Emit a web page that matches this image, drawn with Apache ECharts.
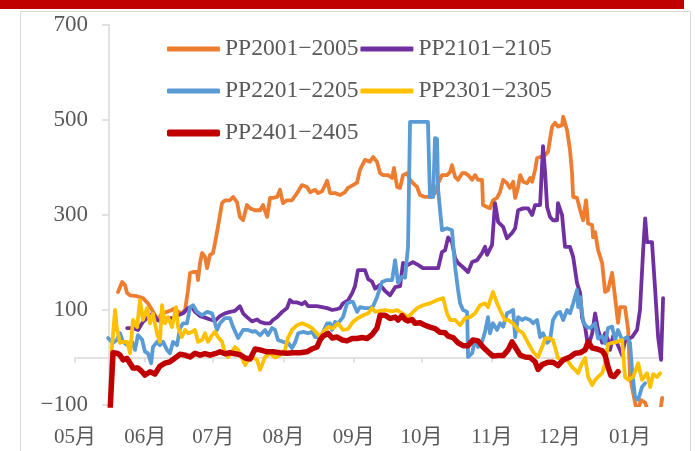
<!DOCTYPE html>
<html><head><meta charset="utf-8">
<script src="https://cdn.jsdelivr.net/npm/echarts@6/dist/echarts.min.js"></script>
<style>html,body{margin:0;padding:0;background:#fff}#c{width:695px;height:451px}</style>
</head><body><div id="c"></div>
<script>
// x = day offset from 1 May; y = spread value
const seriesNames = ['PP2001−2005','PP2101−2105','PP2201−2205','PP2301−2305','PP2401−2405'];
const monthStartDays = [0,31,61,92,123,153,184,214,245];
const monthLabels = ['05月','06月','07月','08月','09月','10月','11月','12月','01月'];

const pp2001 = [[19,138],[20.8,159],[22.1,152],[23,136],[24.3,131],[27.4,129],[30,125],[32.2,114],[34,100],[35.3,89],[36.6,79],[38.4,93],[40.6,96],[42.8,100],[44.2,104],[45.5,96],[47.2,93],[48.6,100],[49.9,142],[50.8,178],[52.1,180],[53.9,180],[54.3,163],[55.2,199],[56.1,220],[57.4,212],[58.3,188],[59.6,216],[60.9,220],[61.8,241],[63.1,275],[64.9,325],[66.2,331],[68.4,331],[69.8,338],[71.5,327],[72.8,296],[74.2,289],[75.9,321],[77.3,314],[79.5,310],[81.7,310],[83,321],[84.8,296],[86.1,336],[87.4,336],[89.2,338],[90.5,353],[91.8,325],[93.6,331],[95.8,331],[98,346],[100.2,363],[102.4,359],[103.8,348],[106,353],[107.3,346],[109.1,350],[111.3,372],[112.6,346],[114.8,346],[117,342],[119.2,348],[120.5,357],[122.7,363],[124.5,368],[125.8,395],[128,416],[130.2,412],[131.6,422],[133.3,412],[134.7,388],[136,384],[138.2,384],[140,378],[140.8,399],[142.2,359],[143.5,357],[144.8,384],[146.6,388],[147.9,374],[149.2,367],[151,359],[152.3,342],[154.5,338],[157.6,338],[158.9,346],[160.3,367],[162,384],[164.2,384],[165.6,391],[166.4,405],[167.8,380],[169.1,374],[170.9,388],[172.2,388],[173.5,384],[175.3,374],[176.6,384],[177.9,374],[179.7,374],[180.1,321],[181.9,317],[183.2,314],[184.5,331],[186.3,336],[187.6,348],[189,374],[190.7,367],[192,357],[193.4,370],[194.3,336],[195.6,359],[196.5,384],[197.8,370],[199.6,367],[200.9,378],[201.8,370],[203.1,395],[204,420],[205.3,422],[207.5,426],[208.8,433],[210.6,486],[211.9,494],[213.2,486],[215,489],[215.5,507],[217.2,479],[218.5,437],[219.4,388],[219.9,338],[221.6,336],[223,310],[224.3,289],[225.6,331],[226.5,282],[228.3,279],[228.7,253],[229.6,264],[230.9,226],[232.7,199],[234,138],[235.3,142],[237.1,178],[238.4,127],[239.7,73],[240.6,106],[242.8,106],[244.2,58],[245,-40],[246.8,-85],[248.1,-115],[249.9,-90],[251.7,-95],[253,-115],[256.1,-120],[258.3,-115],[259.2,-85]];

const pp2101 = [[23,62],[25.6,62],[27.8,58],[30,75],[32.2,85],[34.4,93],[36.2,79],[38.9,75],[41.1,83],[43.3,83],[45.5,89],[47.7,93],[49.9,104],[51.7,106],[53,96],[55.2,87],[57.4,84],[59.6,80],[61.8,77],[64,87],[66.2,93],[68.4,96],[70.6,98],[72.8,108],[74.2,93],[75.9,85],[78.1,76],[80.4,80],[81.7,75],[83.9,72],[86.1,72],[87.4,79],[89.2,85],[91.4,96],[93.6,104],[94.9,121],[96.2,116],[98,116],[100.2,112],[101.5,117],[102.9,108],[104.6,108],[106.8,108],[109.1,106],[111.3,104],[113.5,100],[115.7,102],[117,104],[118.3,114],[120.5,120],[122.3,135],[123.6,150],[124.9,184],[128,184],[129.4,165],[131.1,160],[132.5,145],[134.7,153],[136.9,140],[139.1,131],[141.3,148],[143.5,150],[144.8,199],[147,195],[149.2,201],[151.4,195],[153.6,188],[157.6,188],[160.3,188],[162,222],[163.4,226],[164.7,253],[166.4,243],[167.8,209],[169.1,199],[171.3,190],[173.5,180],[175.3,201],[177.5,205],[179.7,220],[181,233],[181.9,216],[184.1,237],[185.4,325],[186.8,285],[189,275],[190.7,251],[192.9,262],[194.3,272],[195.6,310],[197.8,314],[200,314],[201.8,300],[203.1,321],[205.3,321],[206.6,445],[207.5,390],[208.4,317],[209.7,296],[211,289],[212.8,289],[213.2,325],[215,300],[216.3,233],[218.5,233],[219.9,212],[221.6,157],[223,135],[223.8,85],[225.2,64],[226.5,22],[228.3,51],[229.6,93],[230.9,58],[232.7,31],[234,51],[235.3,37],[236.2,16],[237.5,45],[239.3,30],[241.5,5],[242.8,35],[245.9,43],[248.1,58],[249.4,100],[250.8,226],[251.7,293],[252.5,243],[254.7,243],[256.1,142],[257.4,43],[258.7,-5],[259.6,125]];

const pp2201 = [[14.6,41],[16.8,31],[18.5,37],[19.9,51],[21.2,33],[23,26],[25.2,33],[26.5,16],[27.8,47],[29.6,38],[30.9,12],[32.2,9],[33.6,-12],[34.4,22],[36.2,33],[37.5,26],[38.9,33],[40.6,16],[41.9,9],[43.3,33],[45,26],[46.4,62],[47.7,72],[49.4,72],[50.8,106],[52.1,110],[53.9,96],[56.1,89],[58.3,96],[60.5,93],[62.7,58],[64,72],[66.2,83],[68.4,83],[69.8,64],[72,41],[74.2,58],[76.4,58],[78.6,54],[79.5,56],[81.7,47],[83.9,58],[85.2,47],[87,62],[88.3,58],[89.6,37],[91.8,33],[94,31],[95.8,20],[97.1,31],[98.5,51],[100.7,54],[102.9,51],[104.6,54],[106,43],[108.2,43],[109.5,54],[111.3,72],[112.6,72],[113.5,58],[114.8,75],[116.1,72],[118.3,85],[120.1,114],[121.4,117],[122.7,117],[124.5,96],[125.8,106],[128,104],[130.2,104],[131.6,108],[133.3,127],[135.5,159],[137.7,163],[140,163],[141.3,205],[142.6,157],[144.4,170],[145.7,168],[147,233],[147.9,496],[155.8,496],[156.7,338],[158.1,338],[158.9,462],[159.8,460],[160.3,353],[162,268],[164.2,272],[166.4,268],[167.8,190],[169.1,142],[170,114],[171.3,100],[173.1,96],[173.5,1],[175.3,9],[176.6,37],[177.9,22],[179.7,33],[181,54],[182.3,85],[183.2,51],[184.5,72],[186.3,58],[187.6,72],[189,65],[190.7,93],[192,96],[193.4,100],[194.3,43],[195.6,85],[197.4,79],[198.7,83],[200.9,79],[202.2,72],[204,79],[205.3,43],[206.6,51],[208.4,31],[209.7,37],[211,79],[212.8,93],[214.1,96],[215.5,79],[217.2,100],[218.5,93],[219.9,114],[221.6,142],[222.1,106],[223,127],[224.3,75],[226,64],[227.4,62],[229.6,72],[230.9,40],[232.7,45],[234,30],[235.3,62],[237.1,65],[238.4,37],[239.7,58],[241.5,37],[243.7,43],[245,31],[245.9,-26],[247.2,-83],[248.6,-89],[250.3,-62],[251.7,-54]];

const pp2301 = [[15.5,-105],[16.3,22],[17.7,100],[18.5,60],[19.9,31],[21.2,33],[23,33],[24.3,9],[25.6,79],[27.4,64],[28.7,121],[30,79],[31.8,104],[33.1,72],[34.4,93],[36.2,51],[37.5,33],[38.4,110],[39.7,72],[41.1,85],[42.8,64],[44.6,106],[45.5,64],[47.2,43],[48.6,58],[49.9,51],[51.7,54],[53,58],[54.3,33],[56.1,37],[57.4,51],[58.7,33],[60.5,47],[61.8,54],[63.1,43],[64.9,33],[66.2,9],[67.5,1],[69.3,12],[70.6,22],[72,16],[73.7,-1],[75.1,-16],[76.4,-5],[78.1,1],[80.4,-5],[81.7,-26],[83.9,1],[86.1,9],[88.3,0],[90.5,5],[92.7,16],[94,41],[95.8,58],[98,68],[100.2,72],[102.4,68],[104.6,62],[106.8,51],[108.2,43],[109.5,54],[111.7,64],[113.9,62],[116.1,72],[118.3,58],[120.5,60],[122.7,75],[124.9,83],[127.2,89],[129.4,93],[131.1,104],[132.5,96],[134.7,98],[136.9,100],[140,97],[142.2,100],[144.4,93],[147,85],[151,104],[153.6,110],[156.7,114],[159.8,121],[162.5,125],[164.2,93],[165.6,79],[167.8,79],[170,68],[172.2,83],[174.4,85],[176.6,93],[178.8,110],[181,114],[182.3,106],[184.5,138],[186.3,114],[187.6,100],[189.8,79],[191.2,79],[193.4,72],[195.6,58],[197.8,51],[200,31],[202.2,12],[204.4,1],[206.2,22],[207.5,40],[209.7,40],[211,37],[213.2,-1],[215,-5],[217.2,-5],[219.4,-20],[220.8,-26],[222.1,-33],[223.8,-12],[225.2,-1],[226.5,-41],[228.3,-58],[229.6,-47],[230.9,-41],[232.7,-33],[234,-12],[235.3,28],[237.1,31],[239.3,33],[241.5,37],[242.8,-41],[244.2,-47],[246.4,-41],[248.6,-12],[250.3,-47],[252.5,-33],[253.9,-62],[255.2,-35],[256.9,-41],[258.3,-33]];

const pp2401 = [[15.5,-110],[16.8,10],[18.5,9],[19.9,5],[21.2,-5],[23,-2],[24.3,-12],[25.6,-22],[27.8,-22],[29.6,-30],[30.9,-37],[33.1,-30],[35.3,-35],[37.5,-18],[39.7,-12],[41.9,-9],[44.2,-1],[46.4,7],[48.6,5],[50.8,1],[53,9],[55.2,5],[57.4,8],[59.6,5],[61.8,8],[64,12],[66.2,8],[68.4,10],[70.6,8],[72.8,6],[75.1,-1],[77.3,-3],[79.5,18],[81.7,16],[84.8,12],[87.4,12],[90.5,10],[93.6,9],[96.2,10],[99.3,10],[102.4,12],[104.6,18],[106.8,22],[108.2,37],[109.5,45],[111.7,51],[113.5,41],[115.7,43],[117.9,37],[120.1,35],[122.3,40],[124.5,40],[126.7,42],[128.9,40],[131.1,48],[133.3,62],[134.7,89],[136.9,89],[139.1,82],[141.3,85],[142.6,79],[144.4,88],[145.7,80],[147,77],[148.8,80],[150.1,72],[152.3,73],[154.5,68],[156.7,64],[158.9,61],[161.1,53],[163.4,52],[164.7,45],[166.9,42],[169.1,31],[171.3,25],[173.5,25],[175.7,37],[177.9,35],[180.1,22],[182.3,12],[184.5,3],[186.8,4],[189,4],[191.2,16],[192.9,33],[194.3,22],[196.5,5],[198.7,1],[200.9,0],[203.1,-9],[204.4,-25],[206.2,-15],[208.8,-10],[211,-10],[213.2,-17],[215.5,-5],[218.5,1],[220.8,9],[223,10],[225.2,16],[226.5,33],[228.3,20],[230.5,18],[232.7,14],[234,5],[235.3,-20],[236.6,-38],[238,-40],[239.7,-30]];

const seriesData = [pp2001, pp2101, pp2201, pp2301, pp2401];
const colors = ['#ED7D31','#7030A0','#5B9BD5','#FFC000','#C00000'];
const widths = [3.8,3.8,3.8,3.8,5.5];

const chart = echarts.init(document.getElementById('c'), null, {renderer:'canvas'});
const txt = '#595959';
const serif = '"Liberation Serif","Times New Roman","Noto Sans CJK SC",serif';
const legendText = {fontFamily:serif, fontSize:23.5, color:txt, lineHeight:40};
chart.setOption({
  animation: false,
  graphic: [
    {type:'rect', z:-10, silent:true, shape:{x:20.5,y:11.5,width:670,height:460}, style:{fill:'#fff', stroke:'#D9D9D9', lineWidth:1}},
    {type:'rect', silent:true, shape:{x:0,y:0,width:684,height:9}, style:{fill:'#C00000'}}
  ],
  grid: {left:75, right:31, top:25, bottom:46, containLabel:false},
  legend: [
    {left:162, top:24, width:400, icon:'roundRect', itemWidth:53, itemHeight:5, itemGap:2,
     textStyle:legendText, data: seriesNames.slice(0,4)},
    {left:162, top:108, icon:'roundRect', itemWidth:53, itemHeight:7, itemGap:2,
     textStyle:legendText, data: seriesNames.slice(4)}
  ],
  xAxis: [
    {type:'value', min:0, max:260, position:'bottom',
     axisLine:{show:false, onZero:false}, axisTick:{show:false}, splitLine:{show:false},
     axisLabel:{customValues: monthStartDays, margin:22, fontFamily:serif, fontSize:21, color:txt,
       formatter: v => monthLabels[monthStartDays.indexOf(v)] || ''}},
    {type:'value', min:0, max:260, position:'bottom',
     axisLine:{show:true, onZero:true, onZeroAxisIndex:0, lineStyle:{color:'#D9D9D9', width:1.5}},
     axisTick:{show:true, customValues: monthStartDays, length:5, lineStyle:{color:'#D9D9D9', width:1.5}},
     axisLabel:{show:false}, splitLine:{show:false}}
  ],
  yAxis: {type:'value', min:-100, max:700, interval:200, offset:-34,
    axisLine:{show:true, lineStyle:{color:'#D9D9D9', width:1.5}},
    axisTick:{show:true, length:7, lineStyle:{color:'#D9D9D9', width:1.5}},
    splitLine:{show:false},
    axisLabel:{margin:21, fontFamily:serif, fontSize:23, color:txt,
      formatter: v => v < 0 ? '\u2212' + Math.abs(v) : String(v)}},
  series: seriesNames.map((n,i) => ({
    name:n, type:'line', xAxisIndex:0, data:seriesData[i], symbol:'none', showSymbol:false,
    clip:true, color:colors[i],
    lineStyle:{color:colors[i], width:widths[i], cap:'round', join:'round'}
  }))
});
</script></body></html>
